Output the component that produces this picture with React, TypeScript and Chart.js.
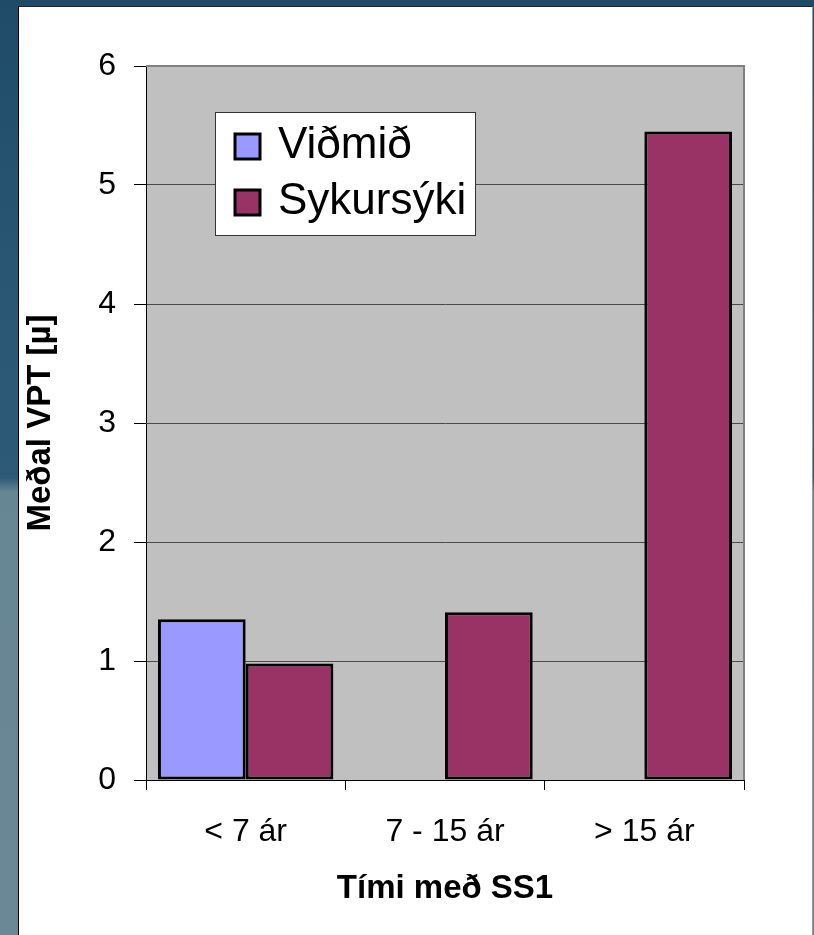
import React, { useEffect, useRef } from "react";
import { Chart, registerables } from "chart.js";

Chart.register(...registerables);

const categories = ["< 7 ár", "7 - 15 ár", "> 15 ár"];
const seriesNames = ["Viðmið", "Sykursýki"];
const vidmidValues = [1.35, null, null];
const sykursykiValues = [0.98, 1.41, 5.45];
const seriesColors = ["#9999ff", "#993366"];
const yTicks = [0, 1, 2, 3, 4, 5, 6];
const xTitle = "Tími með SS1";
const yTitle = "Meðal VPT [µ]";

const FONT = '"Liberation Sans", Arial, sans-serif';

const plotDecor = {
  id: "plotDecor",
  beforeDraw(chart: any) {
    const { ctx, chartArea: a } = chart;
    ctx.save();
    ctx.fillStyle = "#c0c0c0";
    ctx.fillRect(a.left, a.top, a.right - a.left, a.bottom - a.top);
    ctx.restore();
  },
  beforeDatasetsDraw(chart: any) {
    const { ctx, chartArea: a } = chart;
    ctx.save();
    ctx.strokeStyle = "#808080";
    ctx.lineWidth = 2;
    ctx.beginPath();
    ctx.moveTo(a.left, a.top);
    ctx.lineTo(a.right, a.top);
    ctx.lineTo(a.right, a.bottom);
    ctx.stroke();
    ctx.restore();
  },
};

const boxLegend = {
  id: "boxLegend",
  afterDatasetsDraw(chart: any) {
    const { ctx, chartArea: a } = chart;
    const x = a.left + 69;
    const y = a.top + 46;
    const w = 261;
    const h = 124;
    ctx.save();
    ctx.fillStyle = "#ffffff";
    ctx.fillRect(x, y, w, h);
    ctx.strokeStyle = "#333333";
    ctx.lineWidth = 1;
    ctx.strokeRect(x + 0.5, y + 0.5, w - 1, h - 1);
    chart.data.datasets.forEach((ds: any, i: number) => {
      const base = y + 46 + i * 56;
      const sq = 25;
      const sy = base - 24;
      ctx.fillStyle = ds.backgroundColor;
      ctx.fillRect(x + 20, sy, sq, sq);
      ctx.strokeStyle = "#000";
      ctx.lineWidth = 3;
      ctx.strokeRect(x + 20, sy, sq, sq);
      ctx.fillStyle = "#000";
      ctx.font = `44px ${FONT}`;
      ctx.textBaseline = "alphabetic";
      ctx.textAlign = "left";
      ctx.fillText(ds.label, x + 63, base);
    });
    ctx.restore();
  },
};

export default function App() {
  const ref = useRef<HTMLCanvasElement | null>(null);

  useEffect(() => {
    if (!ref.current) return;
    const chart = new Chart(ref.current, {
      type: "bar",
      data: {
        labels: categories,
        datasets: [
          {
            label: seriesNames[0],
            data: vidmidValues as any,
            backgroundColor: seriesColors[0],
            borderColor: "#000",
            borderWidth: 3,
            borderSkipped: false,
            categoryPercentage: 0.88,
            barPercentage: 1,
          },
          {
            label: seriesNames[1],
            data: sykursykiValues,
            backgroundColor: seriesColors[1],
            borderColor: "#000",
            borderWidth: 3,
            borderSkipped: false,
            categoryPercentage: 0.88,
            barPercentage: 1,
          },
        ],
      },
      options: {
        responsive: false,
        animation: false,
        devicePixelRatio: 1,
        layout: { padding: { top: 66, right: 70, left: 0, bottom: 0 } },
        plugins: {
          legend: { display: false },
          tooltip: { enabled: false },
        },
        scales: {
          x: {
            grid: {
              offset: true,
              drawOnChartArea: false,
              tickLength: 10,
              tickColor: "#000",
              color: "#000",
            },
            border: { color: "#000", width: 1 },
            ticks: {
              color: "#000",
              font: { family: FONT, size: 32 },
              padding: 23,
              maxRotation: 0,
            },
            title: {
              display: true,
              text: xTitle,
              color: "#000",
              font: { family: FONT, size: 33, weight: "bold" },
              padding: { top: 0, bottom: 26 },
            },
            afterFit(scale: any) {
              scale.height = 155;
            },
          },
          y: {
            min: 0,
            max: 6,
            afterBuildTicks(scale: any) {
              scale.ticks = yTicks.map((v) => ({ value: v }));
            },
            grid: {
              color: (c: any) => (c.tick && c.tick.value === 6 ? "rgba(0,0,0,0)" : "#4a4a4a"),
              tickColor: "#000",
              tickLength: 12,
              lineWidth: 1,
            },
            border: { color: "#000", width: 1 },
            ticks: {
              color: "#000",
              font: { family: FONT, size: 32 },
              padding: 18,
            },
            title: {
              display: true,
              text: yTitle,
              color: "#000",
              font: { family: FONT, size: 33, weight: "bold" },
              padding: { top: 21, bottom: 0 },
            },
            afterFit(scale: any) {
              scale.width = 146;
            },
          },
        },
      },
      plugins: [plotDecor, boxLegend],
    });
    return () => chart.destroy();
  }, []);

  return (
    <div
      style={{
        position: "absolute",
        left: 0,
        top: 0,
        width: 814,
        height: 935,
        overflow: "hidden",
        background:
          "linear-gradient(180deg, #1f4b68 0px, #2a5874 300px, #2d5b77 478px, #678694 492px, #6a8896 935px)",
      }}
    >
      <div
        style={{
          position: "absolute",
          left: 18,
          top: 6,
          width: 795,
          height: 929,
          background: "#ffffff",
          borderLeft: "1px solid #000",
          borderTop: "1px solid #222",
          borderRight: "1px solid #999",
          boxSizing: "border-box",
        }}
      />
      <canvas
        ref={ref}
        width={814}
        height={935}
        style={{ position: "absolute", left: 0, top: 0, width: 814, height: 935 }}
      />
    </div>
  );
}
